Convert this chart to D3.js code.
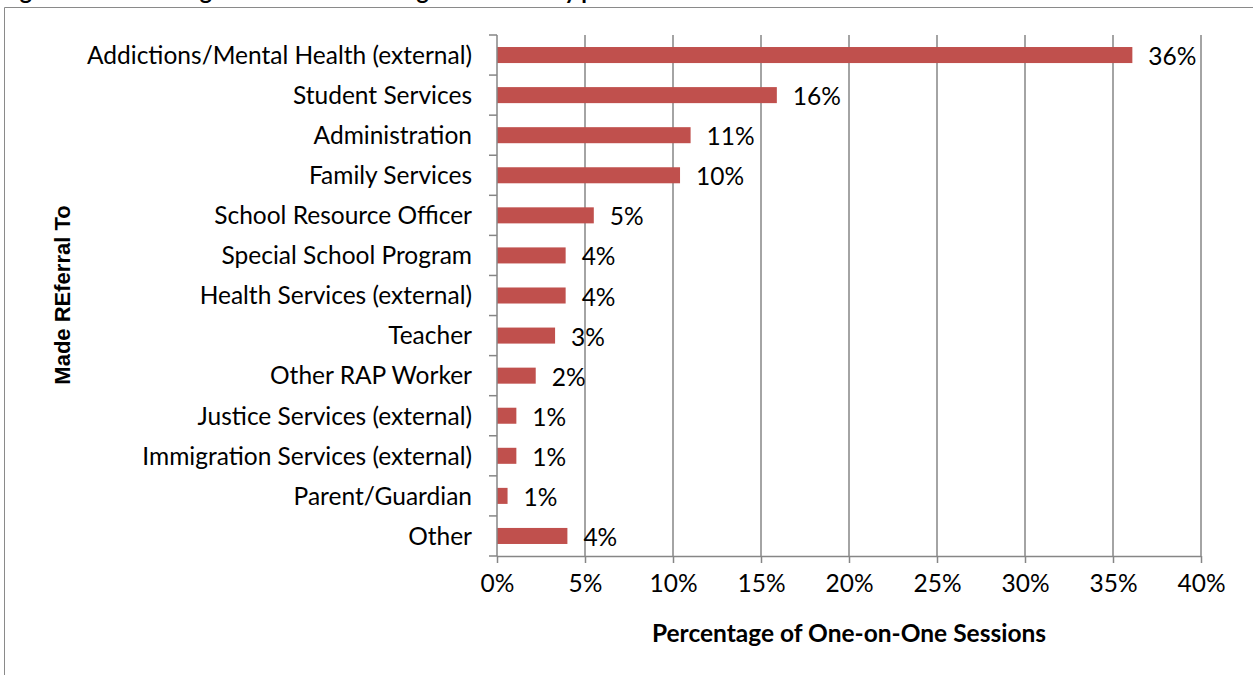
<!DOCTYPE html>
<html>
<head>
<meta charset="utf-8">
<script src="https://cdn.jsdelivr.net/npm/d3@7"></script>
<style>
  html, body { margin: 0; padding: 0; background: #fff; }
  svg { display: block; }
</style>
</head>
<body>
<svg id="chart" width="1253" height="675"></svg>
<script>
const categories = [
  "Addictions/Mental Health (external)",
  "Student Services",
  "Administration",
  "Family Services",
  "School Resource Officer",
  "Special School Program",
  "Health Services (external)",
  "Teacher",
  "Other RAP Worker",
  "Justice Services (external)",
  "Immigration Services (external)",
  "Parent/Guardian",
  "Other"
];
const values = [0.361, 0.159, 0.110, 0.104, 0.055, 0.039, 0.039, 0.033, 0.022, 0.011, 0.011, 0.006, 0.040];
const valueLabels = ["36%", "16%", "11%", "10%", "5%", "4%", "4%", "3%", "2%", "1%", "1%", "1%", "4%"];
const xTicks = [0, 0.05, 0.10, 0.15, 0.20, 0.25, 0.30, 0.35, 0.40];
const titleText = "Figure 10: Percentage of Referrals Making in Sessions by partner";
const xTitle = "Percentage of One-on-One Sessions";
const yTitle = "Made REferral To";

const FONT = "Lato, 'Open Sans', sans-serif";
const GRID = "#868686";
const BAR = "#C0504D";
const FS = 24.5;

const svg = d3.select("#chart");
svg.append("rect").attr("width", 1253).attr("height", 675).attr("fill", "#fff");

// frame
svg.append("path").attr("d", "M4.5,675V7.5H1253").attr("fill", "none").attr("stroke", "#8a8a8a").attr("stroke-width", 1);

// cut-off title
svg.append("text").attr("x", 1).attr("y", -1)
  .attr("font-family", FONT).attr("font-weight", "bold").attr("font-size", 23)
  .attr("fill", "#000").text(titleText);

const x = d3.scaleLinear().domain([0, 0.4]).range([497, 1201]);
const y = d3.scaleBand().domain(categories).range([35, 556]).paddingInner(0.6).paddingOuter(0.3);
const yTop = 35, yBot = 556;

// gridlines
svg.append("g").selectAll("line").data(xTicks.slice(1)).join("line")
  .attr("x1", d => x(d)).attr("x2", d => x(d))
  .attr("y1", yTop).attr("y2", yBot)
  .attr("stroke", GRID).attr("stroke-width", 1.5);

// bars
svg.append("g").selectAll("rect").data(values).join("rect")
  .attr("x", x(0))
  .attr("y", (d, i) => y(categories[i]))
  .attr("width", d => x(d) - x(0))
  .attr("height", y.bandwidth())
  .attr("fill", BAR);

// data labels
svg.append("g").selectAll("text").data(values).join("text")
  .attr("x", d => x(d) + 16)
  .attr("y", (d, i) => y(categories[i]) + y.bandwidth() / 2 + 10)
  .attr("font-family", FONT).attr("font-size", FS).attr("fill", "#000")
  .text((d, i) => valueLabels[i]);

// x axis
const xAxis = d3.axisBottom(x).tickValues(xTicks).tickFormat(d3.format(".0%")).tickSize(7).tickPadding(12);
const gx = svg.append("g").attr("transform", `translate(0,${yBot})`).call(xAxis);
gx.select(".domain").attr("stroke", GRID).attr("stroke-width", 1.5).attr("d", `M${x(0)},0.5H${x(0.4)}`);
gx.selectAll(".tick line").attr("stroke", GRID).attr("stroke-width", 1.5);
gx.selectAll(".tick text").attr("font-family", FONT).attr("font-size", FS).attr("fill", "#000");

// y axis
const yAxis = d3.axisLeft(y).tickSize(0).tickPadding(25);
const gy = svg.append("g").attr("transform", `translate(${x(0)},0)`).call(yAxis);
gy.select(".domain").attr("stroke", GRID).attr("stroke-width", 1.5).attr("d", `M0,${yTop}V${yBot}`);
gy.selectAll(".tick text").attr("font-family", FONT).attr("font-size", FS).attr("fill", "#000").attr("dy", "0.36em");
// band boundary ticks
const bounds = d3.range(categories.length + 1).map(i => yTop + i * y.step());
gy.append("g").selectAll("line").data(bounds).join("line")
  .attr("x1", -8).attr("x2", 0).attr("y1", d => d).attr("y2", d => d)
  .attr("stroke", GRID).attr("stroke-width", 1.5);

// axis titles
svg.append("text").attr("x", 849).attr("y", 642)
  .attr("text-anchor", "middle").attr("font-family", FONT).attr("font-weight", "bold").attr("font-size", 24.5)
  .attr("fill", "#000").text(xTitle);
svg.append("text").attr("transform", "translate(70,295) rotate(-90)")
  .attr("text-anchor", "middle").attr("font-family", "'Liberation Sans', Arial, sans-serif").attr("font-weight", "bold").attr("font-size", 22)
  .attr("fill", "#000").text(yTitle);
</script>
</body>
</html>
